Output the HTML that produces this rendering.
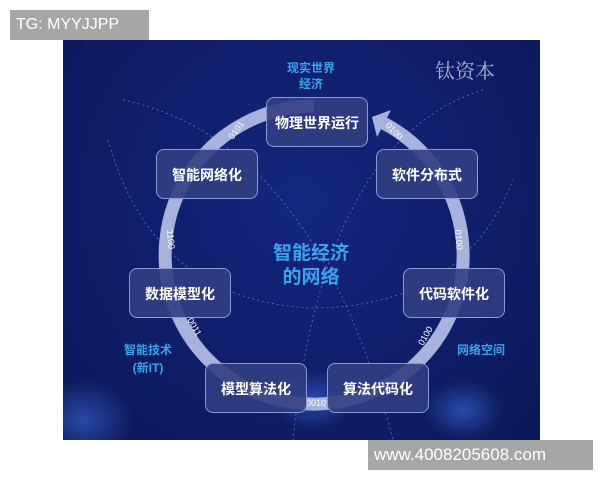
<!DOCTYPE html>
<html><head><meta charset="utf-8"><style>
body{margin:0;width:600px;height:480px;background:#fff;position:relative;overflow:hidden;font-family:"Liberation Sans","Noto Sans CJK SC",sans-serif}
.tg{position:absolute;left:10px;top:10px;width:139px;height:30px;background:#a6a6a6;color:#fff;font-size:16px;line-height:30px;padding-left:6px;box-sizing:border-box}
.wm{position:absolute;left:368px;top:440px;width:225px;height:30px;background:#a6a6a6;color:#fff;font-size:17px;line-height:30px;padding-left:6px;box-sizing:border-box}
.panel{position:absolute;left:63px;top:40px;width:477px;height:400px;background:radial-gradient(ellipse at 50% 40%,#14267e 0%,#0f1d68 60%,#0c1856 100%);overflow:hidden}
.n{position:absolute;width:102px;height:50px;border:1.5px solid #8a9ad8;border-radius:8px;background:rgba(50,62,130,0.9);color:#fff;font-weight:bold;font-size:14px;line-height:50px;text-align:center;box-sizing:border-box}
.b{position:absolute;color:#3aa3ec;font-weight:bold;text-align:center}
</style></head><body>
<div class="tg">TG: MYYJJPP</div>
<div class="panel">
<svg width="477" height="400" style="position:absolute;left:0;top:0">
<defs><radialGradient id="g"><stop offset="0" stop-color="#3a6ad8" stop-opacity="0.6"/><stop offset="1" stop-color="#3a6ad8" stop-opacity="0"/></radialGradient></defs>
<ellipse cx="20" cy="380" rx="50" ry="40" fill="url(#g)"/>
<ellipse cx="250" cy="360" rx="40" ry="30" fill="url(#g)"/>
<ellipse cx="400" cy="370" rx="40" ry="30" fill="url(#g)"/>
<path d="M60 60 Q250 100 330 400" stroke="#7f9ae0" stroke-width="0.8" fill="none" stroke-dasharray="2 3" opacity="0.7"/>
<path d="M420 50 Q260 100 230 400" stroke="#7f9ae0" stroke-width="0.8" fill="none" stroke-dasharray="2 3" opacity="0.7"/>
<path d="M45 100 Q90 260 248 268 Q400 268 450 140" stroke="#7f9ae0" stroke-width="0.8" fill="none" stroke-dasharray="2 3" opacity="0.7"/>
<path d="M321 83.4 A149 149 0 1 1 251 66" stroke="#a9b2dc" stroke-width="13" fill="none"/>
<polygon points="309,77 328,70 314,97" fill="#a9b2dc"/>
<g fill="#fff" font-size="9" font-family="Liberation Sans">
<text x="170" y="100" transform="rotate(-55 170 100)">0101</text>
<text x="322" y="86" transform="rotate(45 322 86)">0100</text>
<text x="104" y="190" transform="rotate(85 104 190)">1100</text>
<text x="392" y="190" transform="rotate(85 392 190)">0100</text>
<text x="124" y="280" transform="rotate(60 124 280)">0011</text>
<text x="360" y="306" transform="rotate(-60 360 306)">0100</text>
<text x="243" y="366">0010</text>
</g>
</svg>
<div class="b" style="left:198px;top:20px;width:100px;font-size:12px;line-height:16px">现实世界<br>经济</div>
<div style="position:absolute;left:372px;top:15px;color:#a8b4cc;font-size:20px;font-family:'Noto Serif CJK SC',serif">钛资本</div>
<div class="b" style="left:188px;top:202px;width:120px;font-size:19px;line-height:24px">智能经济<br>的网络</div>
<div class="b" style="left:40px;top:301px;width:90px;font-size:12px;line-height:18px">智能技术<br>(新IT)</div>
<div class="b" style="left:380px;top:301px;width:76px;font-size:12px;line-height:18px">网络空间</div>
<div class="n" style="left:203px;top:57px">物理世界运行</div>
<div class="n" style="left:93px;top:109px">智能网络化</div>
<div class="n" style="left:313px;top:109px">软件分布式</div>
<div class="n" style="left:66px;top:228px">数据模型化</div>
<div class="n" style="left:340px;top:228px">代码软件化</div>
<div class="n" style="left:142px;top:323px">模型算法化</div>
<div class="n" style="left:264px;top:323px">算法代码化</div>
</div>
<div class="wm">www.4008205608.com</div>
</body></html>
